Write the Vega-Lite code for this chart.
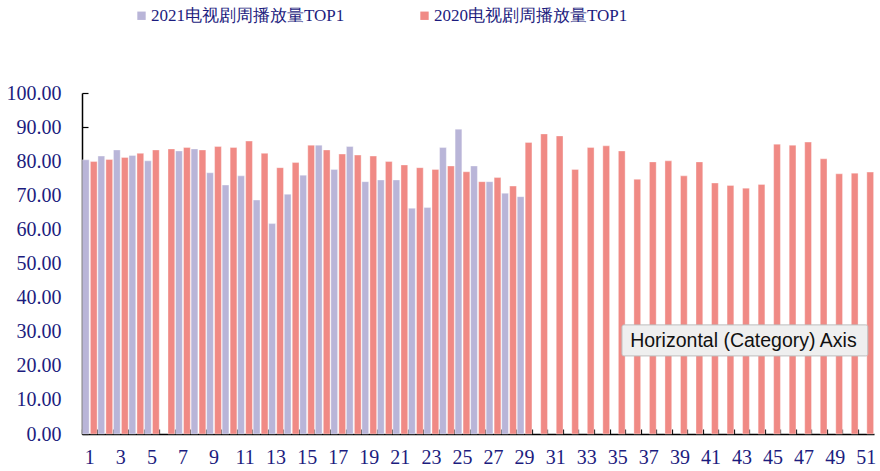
{
  "$schema": "https://vega.github.io/schema/vega-lite/v6.json",
  "width": 792,
  "height": 341,
  "autosize": {"type": "none"},
  "padding": {"left": 82, "top": 93, "right": 6, "bottom": 37},
  "background": "white",
  "config": {"view": {"stroke": null}, "font": "Liberation Serif"},
  "datasets": {
    "tip": [{"label": "Horizontal (Category) Axis"}]
  },
  "data": {"values": [
    {"week": 1, "series": "2021电视剧周播放量TOP1", "value": 80.4},
    {"week": 2, "series": "2021电视剧周播放量TOP1", "value": 81.5},
    {"week": 3, "series": "2021电视剧周播放量TOP1", "value": 83.3},
    {"week": 4, "series": "2021电视剧周播放量TOP1", "value": 81.7},
    {"week": 5, "series": "2021电视剧周播放量TOP1", "value": 80.1},
    {"week": 7, "series": "2021电视剧周播放量TOP1", "value": 83.0},
    {"week": 8, "series": "2021电视剧周播放量TOP1", "value": 83.6},
    {"week": 9, "series": "2021电视剧周播放量TOP1", "value": 76.6},
    {"week": 10, "series": "2021电视剧周播放量TOP1", "value": 73.0},
    {"week": 11, "series": "2021电视剧周播放量TOP1", "value": 75.7},
    {"week": 12, "series": "2021电视剧周播放量TOP1", "value": 68.6},
    {"week": 13, "series": "2021电视剧周播放量TOP1", "value": 61.7},
    {"week": 14, "series": "2021电视剧周播放量TOP1", "value": 70.3},
    {"week": 15, "series": "2021电视剧周播放量TOP1", "value": 75.9},
    {"week": 16, "series": "2021电视剧周播放量TOP1", "value": 84.7},
    {"week": 17, "series": "2021电视剧周播放量TOP1", "value": 77.6},
    {"week": 18, "series": "2021电视剧周播放量TOP1", "value": 84.3},
    {"week": 19, "series": "2021电视剧周播放量TOP1", "value": 74.0},
    {"week": 20, "series": "2021电视剧周播放量TOP1", "value": 74.5},
    {"week": 21, "series": "2021电视剧周播放量TOP1", "value": 74.5},
    {"week": 22, "series": "2021电视剧周播放量TOP1", "value": 66.2},
    {"week": 23, "series": "2021电视剧周播放量TOP1", "value": 66.4},
    {"week": 24, "series": "2021电视剧周播放量TOP1", "value": 84.0},
    {"week": 25, "series": "2021电视剧周播放量TOP1", "value": 89.4},
    {"week": 26, "series": "2021电视剧周播放量TOP1", "value": 78.6},
    {"week": 27, "series": "2021电视剧周播放量TOP1", "value": 74.0},
    {"week": 28, "series": "2021电视剧周播放量TOP1", "value": 70.6},
    {"week": 29, "series": "2021电视剧周播放量TOP1", "value": 69.6},
    {"week": 1, "series": "2020电视剧周播放量TOP1", "value": 79.9},
    {"week": 2, "series": "2020电视剧周播放量TOP1", "value": 80.5},
    {"week": 3, "series": "2020电视剧周播放量TOP1", "value": 81.1},
    {"week": 4, "series": "2020电视剧周播放量TOP1", "value": 82.3},
    {"week": 5, "series": "2020电视剧周播放量TOP1", "value": 83.3},
    {"week": 6, "series": "2020电视剧周播放量TOP1", "value": 83.6},
    {"week": 7, "series": "2020电视剧周播放量TOP1", "value": 84.0},
    {"week": 8, "series": "2020电视剧周播放量TOP1", "value": 83.3},
    {"week": 9, "series": "2020电视剧周播放量TOP1", "value": 84.3},
    {"week": 10, "series": "2020电视剧周播放量TOP1", "value": 84.0},
    {"week": 11, "series": "2020电视剧周播放量TOP1", "value": 85.9},
    {"week": 12, "series": "2020电视剧周播放量TOP1", "value": 82.3},
    {"week": 13, "series": "2020电视剧周播放量TOP1", "value": 78.1},
    {"week": 14, "series": "2020电视剧周播放量TOP1", "value": 79.6},
    {"week": 15, "series": "2020电视剧周播放量TOP1", "value": 84.7},
    {"week": 16, "series": "2020电视剧周播放量TOP1", "value": 83.3},
    {"week": 17, "series": "2020电视剧周播放量TOP1", "value": 82.1},
    {"week": 18, "series": "2020电视剧周播放量TOP1", "value": 81.8},
    {"week": 19, "series": "2020电视剧周播放量TOP1", "value": 81.5},
    {"week": 20, "series": "2020电视剧周播放量TOP1", "value": 79.9},
    {"week": 21, "series": "2020电视剧周播放量TOP1", "value": 78.9},
    {"week": 22, "series": "2020电视剧周播放量TOP1", "value": 78.1},
    {"week": 23, "series": "2020电视剧周播放量TOP1", "value": 77.6},
    {"week": 24, "series": "2020电视剧周播放量TOP1", "value": 78.6},
    {"week": 25, "series": "2020电视剧周播放量TOP1", "value": 76.9},
    {"week": 26, "series": "2020电视剧周播放量TOP1", "value": 74.0},
    {"week": 27, "series": "2020电视剧周播放量TOP1", "value": 75.2},
    {"week": 28, "series": "2020电视剧周播放量TOP1", "value": 72.7},
    {"week": 29, "series": "2020电视剧周播放量TOP1", "value": 85.5},
    {"week": 30, "series": "2020电视剧周播放量TOP1", "value": 88.0},
    {"week": 31, "series": "2020电视剧周播放量TOP1", "value": 87.4},
    {"week": 32, "series": "2020电视剧周播放量TOP1", "value": 77.6},
    {"week": 33, "series": "2020电视剧周播放量TOP1", "value": 84.0},
    {"week": 34, "series": "2020电视剧周播放量TOP1", "value": 84.5},
    {"week": 35, "series": "2020电视剧周播放量TOP1", "value": 83.0},
    {"week": 36, "series": "2020电视剧周播放量TOP1", "value": 74.7},
    {"week": 37, "series": "2020电视剧周播放量TOP1", "value": 79.8},
    {"week": 38, "series": "2020电视剧周播放量TOP1", "value": 80.1},
    {"week": 39, "series": "2020电视剧周播放量TOP1", "value": 75.7},
    {"week": 40, "series": "2020电视剧周播放量TOP1", "value": 79.8},
    {"week": 41, "series": "2020电视剧周播放量TOP1", "value": 73.6},
    {"week": 42, "series": "2020电视剧周播放量TOP1", "value": 72.9},
    {"week": 43, "series": "2020电视剧周播放量TOP1", "value": 72.1},
    {"week": 44, "series": "2020电视剧周播放量TOP1", "value": 73.2},
    {"week": 45, "series": "2020电视剧周播放量TOP1", "value": 85.0},
    {"week": 46, "series": "2020电视剧周播放量TOP1", "value": 84.7},
    {"week": 47, "series": "2020电视剧周播放量TOP1", "value": 85.6},
    {"week": 48, "series": "2020电视剧周播放量TOP1", "value": 80.7},
    {"week": 49, "series": "2020电视剧周播放量TOP1", "value": 76.3},
    {"week": 50, "series": "2020电视剧周播放量TOP1", "value": 76.5},
    {"week": 51, "series": "2020电视剧周播放量TOP1", "value": 76.8}
  ]},
  "layer": [
    {
      "mark": {"type": "bar", "stroke": "#ffffff", "strokeOpacity": 0.6, "strokeWidth": 0.6},
      "encoding": {
        "x": {
          "field": "week", "type": "ordinal",
          "scale": {"paddingInner": 0, "paddingOuter": 0},
          "axis": {
            "title": null, "labelAngle": 0, "bandPosition": 0,
            "labelExpr": "datum.value % 2 == 1 ? datum.label : ''",
            "labelFont": "Liberation Serif", "labelFontSize": 20, "labelColor": "#1c1c7e",
            "labelPadding": 18, "labelOverlap": false,
            "domainColor": "#000000", "domainWidth": 1.5,
            "tickColor": "#000000", "tickSize": -5, "tickWidth": 1.2
          }
        },
        "xOffset": {
          "field": "series", "type": "nominal",
          "sort": ["2021电视剧周播放量TOP1", "2020电视剧周播放量TOP1"],
          "scale": {"paddingInner": 0.15, "paddingOuter": 0.05}
        },
        "y": {
          "field": "value", "type": "quantitative",
          "scale": {"domain": [0, 100], "nice": false},
          "axis": {
            "title": null, "grid": false, "values": [0,10,20,30,40,50,60,70,80,90,100],
            "format": ".2f", "labelOverlap": false,
            "labelFont": "Liberation Serif", "labelFontSize": 20, "labelColor": "#1c1c7e",
            "labelPadding": 27,
            "domainColor": "#000000", "domainWidth": 1.5,
            "tickColor": "#000000", "tickSize": -6, "tickWidth": 1.2
          }
        },
        "color": {
          "field": "series", "type": "nominal",
          "scale": {"domain": ["2021电视剧周播放量TOP1", "2020电视剧周播放量TOP1"], "range": ["#b9b5d8", "#f08a85"]},
          "legend": {
            "title": null, "orient": "none", "direction": "horizontal",
            "legendX": 51, "legendY": -86,
            "symbolType": "square", "symbolSize": 70, "symbolStrokeWidth": 0,
            "labelFont": "Liberation Serif", "labelFontSize": 17, "labelColor": "#1c1c7e",
            "labelLimit": 400, "columnPadding": 71, "labelOffset": 1
          }
        }
      }
    },
    {
      "data": {"name": "tip"},
      "mark": {"type": "rect", "fill": "#efefef", "stroke": "#bdbdbd", "strokeWidth": 1, "cornerRadius": 2},
      "encoding": {
        "x": {
          "datum": 35, "type": "ordinal", "bandPosition": 0.77,
          "axis": {
            "title": null, "labelAngle": 0, "bandPosition": 0,
            "labelExpr": "datum.value % 2 == 1 ? datum.label : ''",
            "labelFont": "Liberation Serif", "labelFontSize": 20, "labelColor": "#1c1c7e",
            "labelPadding": 18, "labelOverlap": false,
            "domainColor": "#000000", "domainWidth": 1.5,
            "tickColor": "#000000", "tickSize": -5, "tickWidth": 1.2
          }
        },
        "x2": {"datum": 51, "bandPosition": 0.6},
        "y": {
          "datum": 32.0, "type": "quantitative",
          "axis": {
            "title": null, "grid": false, "values": [0,10,20,30,40,50,60,70,80,90,100],
            "format": ".2f", "labelOverlap": false,
            "labelFont": "Liberation Serif", "labelFontSize": 20, "labelColor": "#1c1c7e",
            "labelPadding": 27,
            "domainColor": "#000000", "domainWidth": 1.5,
            "tickColor": "#000000", "tickSize": -6, "tickWidth": 1.2
          }
        },
        "y2": {"datum": 22.9}
      }
    },
    {
      "data": {"name": "tip"},
      "mark": {"type": "text", "align": "left", "baseline": "middle", "font": "Liberation Sans", "fontSize": 19.5, "color": "#111111"},
      "encoding": {
        "x": {
          "datum": 36, "type": "ordinal", "bandPosition": 0.3,
          "axis": {
            "title": null, "labelAngle": 0, "bandPosition": 0,
            "labelExpr": "datum.value % 2 == 1 ? datum.label : ''",
            "labelFont": "Liberation Serif", "labelFontSize": 20, "labelColor": "#1c1c7e",
            "labelPadding": 18, "labelOverlap": false,
            "domainColor": "#000000", "domainWidth": 1.5,
            "tickColor": "#000000", "tickSize": -5, "tickWidth": 1.2
          }
        },
        "y": {
          "datum": 27.3, "type": "quantitative",
          "axis": {
            "title": null, "grid": false, "values": [0,10,20,30,40,50,60,70,80,90,100],
            "format": ".2f", "labelOverlap": false,
            "labelFont": "Liberation Serif", "labelFontSize": 20, "labelColor": "#1c1c7e",
            "labelPadding": 27,
            "domainColor": "#000000", "domainWidth": 1.5,
            "tickColor": "#000000", "tickSize": -6, "tickWidth": 1.2
          }
        },
        "text": {"field": "label"}
      }
    }
  ]
}
